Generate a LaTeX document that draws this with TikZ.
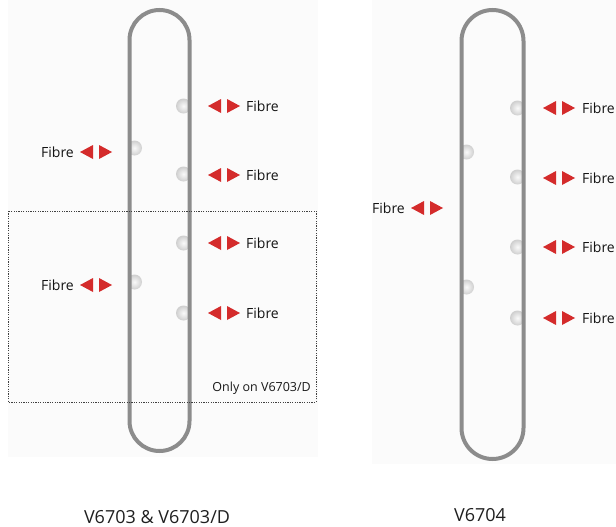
\documentclass[tikz,border=0pt]{standalone}
\usepackage{fontspec}
\setmainfont{Open Sans}
\definecolor{tubegray}{HTML}{8C8C8C}
\definecolor{arrowred}{HTML}{D42B2B}
\definecolor{panelbg}{HTML}{FBFBFB}
\tikzset{bumpshade/.style={inner color=white!96!gray,outer color=white!62!gray}}
\newcommand\bumpRight[2]{\begin{scope}\clip (#1-20,#2-10) rectangle (#1,#2+10);
  \shade[bumpshade] (#1-6,#2) circle[radius=7.5pt];\end{scope}}
\newcommand\bumpLeft[2]{\begin{scope}\clip (#1,#2-10) rectangle (#1+20,#2+10);
  \shade[bumpshade] (#1+5,#2) circle[radius=7.5pt];\end{scope}}
\newcommand\redPair[2]{%
  \fill[arrowred] (#1,#2) -- (#1+13,#2-7) -- (#1+13,#2+7) -- cycle;
  \fill[arrowred] (#1+19,#2-7) -- (#1+32,#2) -- (#1+19,#2+7) -- cycle;}
\begin{document}
\begin{tikzpicture}[x=1pt,y=-1pt,
  tube/.style={draw=tubegray,line width=4pt},
  fibre/.style={font=\fontsize{14}{16}\selectfont,inner sep=0pt,text=black!92},
  caption/.style={font=\fontsize{18}{22}\selectfont,inner sep=0pt,text=black!88},
  onlybox/.style={draw=black!75,line width=0.8pt,dash pattern=on 1.2pt off 1.2pt}]
\useasboundingbox (0,0) rectangle (616,527);
% panels
\fill[panelbg] (8,0) rectangle (318,457);
\fill[panelbg] (372,0) rectangle (616,464);
% ---- left tube (V6703)
\foreach \y in {106,174,243,313} {\bumpRight{189.5}{\y}}
\foreach \y in {148,282} {\bumpLeft{129.5}{\y}}
\draw[tube] (129.5,40) arc[start angle=180,end angle=0,radius=30pt]
  -- (189.5,421) arc[start angle=0,end angle=-180,radius=30pt] -- cycle;
\foreach \y [count=\i] in {106,175,243,313} {
  \redPair{208}{\y}
  \node[fibre,anchor=west] (lr\i) at (246,\y) {Fibre};}
\foreach \y [count=\i] in {152,285} {
  \redPair{80}{\y}
  \node[fibre,anchor=east] (ll\i) at (74,\y) {Fibre};}
\draw[onlybox] (8,211) rectangle (316,402);
\node[font=\fontsize{12.5}{14}\selectfont,inner sep=0pt,anchor=east,text=black!90] (only) at (311,388) {Only on V6703/D};
\node[caption] (cap1) at (157,517) {V6703 \& V6703/D};
% ---- right tube (V6704)
\foreach \y in {108,177,247,318} {\bumpRight{523.5}{\y}}
\foreach \y in {152,287} {\bumpLeft{461.5}{\y}}
\draw[tube] (461.5,41) arc[start angle=180,end angle=0,radius=31pt]
  -- (523.5,428) arc[start angle=0,end angle=-180,radius=31pt] -- cycle;
\foreach \y [count=\i] in {108,178,247,318} {
  \redPair{543}{\y}
  \node[fibre,anchor=west] (rr\i) at (582,\y) {Fibre};}
\redPair{411}{208}
\node[fibre,anchor=east] (rl1) at (405,208) {Fibre};
\node[caption] (cap2) at (480,515) {V6704};
\end{tikzpicture}
\end{document}
